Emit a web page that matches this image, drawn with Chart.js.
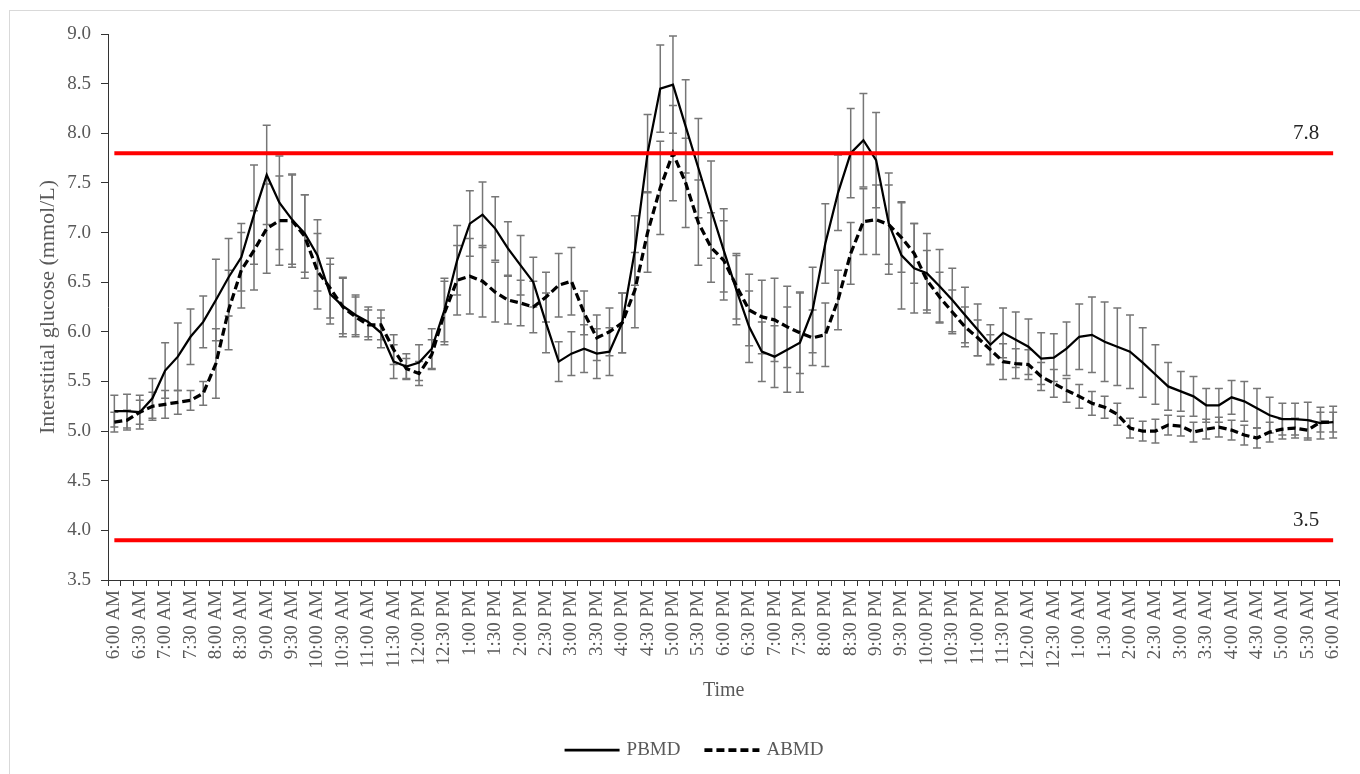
<!DOCTYPE html>
<html>
<head>
<meta charset="utf-8">
<title>Interstitial glucose</title>
<script src="https://cdn.jsdelivr.net/npm/chart.js@4.4.1/dist/chart.umd.min.js"></script>
<style>
    html, body { margin: 0; padding: 0; background: #fff; overflow: hidden; }
    #wrap { position: relative; width: 1360px; height: 774px; overflow: hidden; }
    #frame { position: absolute; left: 9px; top: 10px; width: 1400px; height: 800px; border: 1px solid #d9d9d9; }
    #glucose-chart { position: absolute; left: 0; top: 0; }
</style>
</head>
<body>
<div id="wrap">
    <div id="frame"></div>
    <canvas id="glucose-chart" width="1360" height="774"></canvas>
</div>
<script>
// Axis labels (every 30 min)
const tickLabels = [
    "6:00 AM", "6:30 AM", "7:00 AM", "7:30 AM", "8:00 AM", "8:30 AM", "9:00 AM", "9:30 AM",
    "10:00 AM", "10:30 AM", "11:00 AM", "11:30 AM", "12:00 PM", "12:30 PM", "1:00 PM", "1:30 PM",
    "2:00 PM", "2:30 PM", "3:00 PM", "3:30 PM", "4:00 PM", "4:30 PM", "5:00 PM", "5:30 PM",
    "6:00 PM", "6:30 PM", "7:00 PM", "7:30 PM", "8:00 PM", "8:30 PM", "9:00 PM", "9:30 PM",
    "10:00 PM", "10:30 PM", "11:00 PM", "11:30 PM", "12:00 AM", "12:30 AM", "1:00 AM", "1:30 AM",
    "2:00 AM", "2:30 AM", "3:00 AM", "3:30 AM", "4:00 AM", "4:30 AM", "5:00 AM", "5:30 AM",
    "6:00 AM"
];

// Readings every 15 min, 6:00 AM to 6:00 AM
const categories = [];
for (let i = 0; i < 97; i++) {
    const mins = 6 * 60 + i * 15;
    const h24 = Math.floor(mins / 60) % 24;
    const h12 = h24 % 12 === 0 ? 12 : h24 % 12;
    categories.push(`${h12}:${String(mins % 60).padStart(2, "0")} ${h24 < 12 ? "AM" : "PM"}`);
}

const pbmd = [
    5.20, 5.20, 5.19, 5.33, 5.61, 5.75, 5.95, 6.10, 6.32, 6.55,
    6.75, 7.18, 7.58, 7.30, 7.13, 6.99, 6.77, 6.38, 6.26, 6.17,
    6.10, 5.99, 5.70, 5.65, 5.69, 5.83, 6.22, 6.72, 7.09, 7.18,
    7.04, 6.84, 6.67, 6.50, 6.09, 5.70, 5.78, 5.83, 5.78, 5.80,
    6.09, 6.82, 7.80, 8.45, 8.49, 8.07, 7.65, 7.23, 6.82, 6.42,
    6.05, 5.80, 5.75, 5.82, 5.89, 6.22, 6.89, 7.40, 7.80, 7.93,
    7.73, 7.09, 6.77, 6.64, 6.59, 6.46, 6.32, 6.17, 6.02, 5.87,
    5.99, 5.92, 5.85, 5.73, 5.74, 5.83, 5.95, 5.97, 5.90, 5.85,
    5.80, 5.69, 5.57, 5.45, 5.40, 5.35, 5.26, 5.26, 5.34, 5.30,
    5.23, 5.16, 5.12, 5.12, 5.11, 5.08, 5.09
];
const pbmdErr = [
    0.16, 0.17, 0.17, 0.20, 0.28, 0.34, 0.28, 0.26, 0.41, 0.39,
    0.34, 0.50, 0.50, 0.47, 0.45, 0.39, 0.36, 0.30, 0.28, 0.20,
    0.15, 0.15, 0.17, 0.13, 0.18, 0.20, 0.32, 0.35, 0.33, 0.33,
    0.32, 0.27, 0.30, 0.25, 0.30, 0.20, 0.22, 0.24, 0.25, 0.24,
    0.30, 0.35, 0.39, 0.44, 0.49, 0.47, 0.50, 0.49, 0.42, 0.35,
    0.36, 0.30, 0.31, 0.43, 0.50, 0.43, 0.40, 0.38, 0.45, 0.47,
    0.48, 0.51, 0.54, 0.45, 0.40, 0.37, 0.32, 0.28, 0.26, 0.20,
    0.25, 0.28, 0.28, 0.26, 0.24, 0.27, 0.33, 0.38, 0.40, 0.39,
    0.37, 0.35, 0.30, 0.24, 0.20, 0.20, 0.17, 0.17, 0.17, 0.20,
    0.20, 0.18, 0.16, 0.16, 0.18, 0.16, 0.16
];

const abmd = [
    5.09, 5.11, 5.19, 5.25, 5.27, 5.29, 5.31, 5.38, 5.68, 6.22,
    6.62, 6.82, 7.04, 7.12, 7.12, 6.96, 6.61, 6.44, 6.25, 6.15,
    6.07, 6.07, 5.82, 5.63, 5.58, 5.77, 6.19, 6.52, 6.56, 6.51,
    6.40, 6.32, 6.29, 6.25, 6.35, 6.47, 6.51, 6.19, 5.94, 6.00,
    6.09, 6.42, 7.00, 7.45, 7.80, 7.50, 7.10, 6.85, 6.72, 6.46,
    6.22, 6.15, 6.12, 6.05, 5.99, 5.94, 5.97, 6.32, 6.79, 7.11,
    7.13, 7.08, 6.95, 6.79, 6.52, 6.35, 6.20, 6.05, 5.94, 5.82,
    5.70, 5.68, 5.67, 5.55, 5.48, 5.41, 5.35, 5.28, 5.24, 5.17,
    5.03, 5.00, 5.00, 5.06, 5.05, 4.99, 5.02, 5.04, 5.01, 4.96,
    4.93, 4.99, 5.02, 5.03, 5.01, 5.09, 5.09
];
const abmdErr = [
    0.10, 0.10, 0.12, 0.14, 0.14, 0.12, 0.10, 0.12, 0.35, 0.40,
    0.38, 0.40, 0.45, 0.45, 0.47, 0.42, 0.38, 0.30, 0.30, 0.20,
    0.15, 0.15, 0.15, 0.10, 0.12, 0.15, 0.32, 0.35, 0.38, 0.36,
    0.30, 0.24, 0.23, 0.26, 0.25, 0.32, 0.34, 0.22, 0.23, 0.24,
    0.30, 0.38, 0.40, 0.47, 0.48, 0.45, 0.43, 0.35, 0.40, 0.33,
    0.36, 0.37, 0.42, 0.41, 0.41, 0.28, 0.32, 0.30, 0.31, 0.33,
    0.35, 0.40, 0.35, 0.30, 0.30, 0.25, 0.22, 0.20, 0.18, 0.15,
    0.18, 0.15, 0.15, 0.14, 0.14, 0.12, 0.12, 0.12, 0.11, 0.11,
    0.10, 0.10, 0.12, 0.10, 0.10, 0.10, 0.10, 0.10, 0.10, 0.10,
    0.10, 0.10, 0.10, 0.10, 0.10, 0.10, 0.10
];

// Reference lines and the text printed above them
const limitValues = [7.8, 3.9];
const limitLabels = ["7.8", "3.5"];

const FONT = "'Liberation Serif', 'Times New Roman', serif";
const TEXT_GRAY = "#595959";
const AXIS_COLOR = "#333333";

// Error bars under the lines
const errorBars = {
    id: "errorBars",
    beforeDatasetsDraw(chart) {
        const { ctx, scales: { x, y } } = chart;
        ctx.save();
        ctx.strokeStyle = "#767676";
        ctx.lineWidth = 1.5;
        [[pbmd, pbmdErr], [abmd, abmdErr]].forEach(([vals, errs]) => {
            vals.forEach((v, i) => {
                const px = x.getPixelForValue(i);
                const top = y.getPixelForValue(v + errs[i]);
                const bot = y.getPixelForValue(v - errs[i]);
                ctx.beginPath();
                ctx.moveTo(px, top);
                ctx.lineTo(px, bot);
                ctx.moveTo(px - 4, top);
                ctx.lineTo(px + 4, top);
                ctx.moveTo(px - 4, bot);
                ctx.lineTo(px + 4, bot);
                ctx.stroke();
            });
        });
        ctx.restore();
    }
};

// Red threshold lines on top
const limitLines = {
    id: "limitLines",
    afterDatasetsDraw(chart) {
        const { ctx, scales: { x, y } } = chart;
        const x0 = x.getPixelForValue(0);
        const x1 = x.getPixelForValue(categories.length - 1);
        ctx.save();
        limitValues.forEach((val, k) => {
            const py = y.getPixelForValue(val);
            ctx.strokeStyle = "#ff0000";
            ctx.lineWidth = 4;
            ctx.beginPath();
            ctx.moveTo(x0, py);
            ctx.lineTo(x1, py);
            ctx.stroke();
            ctx.fillStyle = "#262626";
            ctx.font = `21px ${FONT}`;
            ctx.textAlign = "center";
            ctx.textBaseline = "middle";
            ctx.fillText(limitLabels[k], x1 - 27, py - 20);
        });
        ctx.restore();
    }
};

// Bottom legend with line samples
const lineLegend = {
    id: "lineLegend",
    afterDraw(chart) {
        const { ctx } = chart;
        const sampleLen = 55, textGap = 7, itemGap = 24, cy = 750;
        ctx.save();
        ctx.font = `19px ${FONT}`;
        const items = chart.data.datasets.map(ds => ({
            text: ds.label,
            dash: ds.borderDash || [],
            width: ds.borderWidth,
            textW: ctx.measureText(ds.label).width
        }));
        const total = items.reduce((s, it) => s + sampleLen + textGap + it.textW, 0) + itemGap * (items.length - 1);
        let cx = 694 - total / 2;
        items.forEach(it => {
            ctx.strokeStyle = "#000";
            ctx.lineWidth = it.width + 0.5;
            ctx.setLineDash(it.dash);
            ctx.beginPath();
            ctx.moveTo(cx, cy);
            ctx.lineTo(cx + sampleLen, cy);
            ctx.stroke();
            ctx.setLineDash([]);
            ctx.fillStyle = TEXT_GRAY;
            ctx.textAlign = "left";
            ctx.textBaseline = "middle";
            ctx.fillText(it.text, cx + sampleLen + textGap, cy);
            cx += sampleLen + textGap + it.textW + itemGap;
        });
        ctx.restore();
    }
};

document.addEventListener("DOMContentLoaded", () => {
    const ctx = document.getElementById("glucose-chart").getContext("2d");

    new Chart(ctx, {
        type: "line",
        data: {
            labels: categories,
            datasets: [
                {
                    label: "PBMD",
                    data: pbmd,
                    borderColor: "#000",
                    borderWidth: 2.25,
                    pointRadius: 0,
                    tension: 0,
                    fill: false,
                },
                {
                    label: "ABMD",
                    data: abmd,
                    borderColor: "#000",
                    borderWidth: 3.25,
                    borderDash: [8, 4],
                    pointRadius: 0,
                    tension: 0,
                    fill: false,
                },
            ],
        },
        options: {
            responsive: false,
            animation: false,
            devicePixelRatio: 1,
            layout: { padding: { left: 9, top: 34, right: 10, bottom: 45 } },
            plugins: {
                legend: { display: false },
                tooltip: { enabled: false },
            },
            scales: {
                x: {
                    offset: true,
                    grid: { offset: true, drawOnChartArea: false, drawTicks: true, tickLength: 6, color: AXIS_COLOR },
                    border: { color: AXIS_COLOR, width: 1 },
                    ticks: {
                        autoSkip: false,
                        minRotation: 90,
                        maxRotation: 90,
                        padding: 4,
                        color: TEXT_GRAY,
                        font: { family: FONT, size: 19 },
                        callback: (v, i) => (i % 2 === 0 ? tickLabels[i / 2] : ""),
                    },
                    title: {
                        display: true,
                        text: "Time",
                        color: TEXT_GRAY,
                        font: { family: FONT, size: 20 },
                        padding: { top: 0, bottom: 26 },
                    },
                    afterFit(scale) { scale.height = 149; },
                },
                y: {
                    min: 3.5,
                    max: 9,
                    grid: { drawOnChartArea: false, drawTicks: true, tickLength: 7, color: AXIS_COLOR },
                    border: { color: AXIS_COLOR, width: 1 },
                    ticks: {
                        stepSize: 0.5,
                        padding: 10,
                        color: TEXT_GRAY,
                        font: { family: FONT, size: 19 },
                        callback: v => v.toFixed(1),
                    },
                    title: {
                        display: true,
                        text: "Interstitial glucose (mmol/L)",
                        color: TEXT_GRAY,
                        font: { family: FONT, size: 22 },
                        padding: { top: 26, bottom: 0 },
                    },
                    afterFit(scale) { scale.width = 99; },
                },
            },
        },
        plugins: [errorBars, limitLines, lineLegend],
    });
});
</script>
</body>
</html>
